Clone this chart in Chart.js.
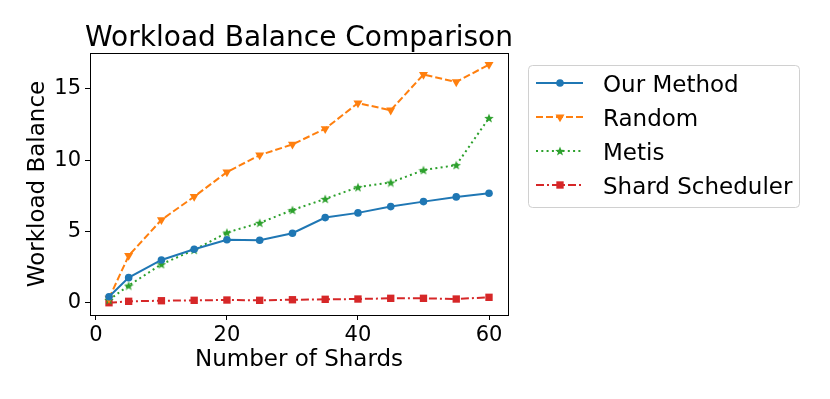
<!DOCTYPE html>
<html>
<head>
<meta charset="utf-8">
<script src="https://cdn.jsdelivr.net/npm/chart.js@4.4.0/dist/chart.umd.min.js"></script>
<style>
  html, body { margin: 0; padding: 0; background: #fff; }
  #wrap { width: 830px; height: 399px; }
</style>
</head>
<body>
<div id="wrap"><canvas id="myChart" width="830" height="399"></canvas></div>
<script>
const shards = [2, 5, 10, 15, 20, 25, 30, 35, 40, 45, 50, 55, 60];
const ourMethod = [0.42, 1.76, 3.0, 3.75, 4.42, 4.38, 4.87, 5.97, 6.30, 6.74, 7.09, 7.42, 7.68];
const randomData = [0.3, 3.3, 5.81, 7.44, 9.16, 10.35, 11.1, 12.2, 14.0, 13.5, 16.0, 15.48, 16.7];
const metis = [0.2, 1.2, 2.7, 3.7, 4.92, 5.6, 6.5, 7.28, 8.1, 8.43, 9.3, 9.65, 12.95];
const shardScheduler = [0.0, 0.1, 0.14, 0.17, 0.19, 0.17, 0.21, 0.24, 0.26, 0.31, 0.31, 0.26, 0.38];

const xTicks = [0, 20, 40, 60];
const yTicks = [0, 5, 10, 15];

const FONT = "'DejaVu Sans', sans-serif";

// filled 5-point star like matplotlib '*'
function makeStar(color, size) {
    const c = document.createElement('canvas');
    c.width = size; c.height = size;
    const g = c.getContext('2d');
    const cx = size / 2, cy = size / 2, R = size / 2, r = R * 0.42;
    g.beginPath();
    for (let i = 0; i < 10; i++) {
        const rad = i % 2 === 0 ? R : r;
        const a = -Math.PI / 2 + i * Math.PI / 5;
        const px = cx + rad * Math.cos(a), py = cy + rad * Math.sin(a) + 0.5;
        if (i === 0) g.moveTo(px, py); else g.lineTo(px, py);
    }
    g.closePath();
    g.fillStyle = color;
    g.fill();
    return c;
}
const starImg = makeStar('#2ca02c', 10);

const toPoints = arr => shards.map((x, i) => ({ x: x, y: arr[i] }));

const datasets = [
    {
        label: 'Our Method',
        data: toPoints(ourMethod),
        borderColor: '#1f77b4',
        backgroundColor: '#1f77b4',
        borderWidth: 2,
        pointStyle: 'circle',
        pointRadius: 3.8,
        pointBorderWidth: 0,
        borderDash: []
    },
    {
        label: 'Random',
        data: toPoints(randomData),
        borderColor: '#ff7f0e',
        backgroundColor: '#ff7f0e',
        borderWidth: 2,
        pointStyle: 'triangle',
        rotation: 180,
        pointRadius: 5.2,
        pointBorderWidth: 0,
        borderDash: [7, 3]
    },
    {
        label: 'Metis',
        data: toPoints(metis),
        borderColor: '#2ca02c',
        backgroundColor: '#2ca02c',
        borderWidth: 2,
        pointStyle: starImg,
        pointRadius: 5,
        pointBorderWidth: 0,
        borderDash: [2, 3.3]
    },
    {
        label: 'Shard Scheduler',
        data: toPoints(shardScheduler),
        borderColor: '#d62728',
        backgroundColor: '#d62728',
        borderWidth: 2,
        pointStyle: 'rect',
        pointRadius: 5.2,
        pointBorderWidth: 0,
        borderDash: [8, 3, 2, 3]
    }
];

const decorations = {
    id: 'decorations',
    afterDraw(chart) {
        const ctx = chart.ctx;
        const a = chart.chartArea;
        ctx.save();
        // full box around axes
        ctx.strokeStyle = '#000';
        ctx.lineWidth = 1;
        ctx.setLineDash([]);
        ctx.strokeRect(Math.round(a.left) + 0.5, Math.round(a.top) + 0.5, Math.round(a.right - a.left), Math.round(a.bottom - a.top));

        ctx.fillStyle = '#000';
        ctx.textAlign = 'center';
        ctx.textBaseline = 'alphabetic';
        ctx.font = '28px ' + FONT;
        ctx.fillText('Workload Balance Comparison', (a.left + a.right) / 2, 46);

        ctx.font = '23px ' + FONT;
        ctx.fillText('Number of Shards', (a.left + a.right) / 2, 366);

        ctx.save();
        ctx.translate(43.5, (a.top + a.bottom) / 2);
        ctx.rotate(-Math.PI / 2);
        ctx.fillText('Workload Balance', 0, 0);
        ctx.restore();

        // legend
        const bx = 528, by = 65, bw = 271, bh = 142;
        ctx.beginPath();
        ctx.roundRect(bx + 0.5, by + 0.5, bw, bh, 4);
        ctx.fillStyle = 'rgba(255,255,255,0.8)';
        ctx.fill();
        ctx.strokeStyle = '#d0d0d0';
        ctx.lineWidth = 1;
        ctx.stroke();

        chart.data.datasets.forEach((ds, i) => {
            const yy = 83 + i * 34;
            ctx.strokeStyle = ds.borderColor;
            ctx.lineWidth = ds.borderWidth;
            ctx.setLineDash(ds.borderDash);
            ctx.beginPath();
            ctx.moveTo(536, yy);
            ctx.lineTo(583, yy);
            ctx.stroke();
            ctx.setLineDash([]);
            ctx.fillStyle = ds.backgroundColor;
            ctx.strokeStyle = ds.borderColor;
            Chart.helpers.drawPoint(ctx, {
                pointStyle: ds.pointStyle,
                radius: ds.pointRadius,
                rotation: ds.rotation || 0,
                borderWidth: 0
            }, 560, yy);
            ctx.fillStyle = '#000';
            ctx.textAlign = 'left';
            ctx.font = '23px ' + FONT;
            ctx.fillText(ds.label, 603, yy + 8.5);
        });
        ctx.restore();
    }
};

const config = {
    type: 'line',
    data: { datasets: datasets },
    options: {
        responsive: false,
        animation: false,
        devicePixelRatio: 1,
        layout: { padding: { left: 30, top: 53, right: 322, bottom: 34 } },
        plugins: {
            legend: { display: false },
            title: { display: false },
            tooltip: { enabled: false }
        },
        elements: { line: { tension: 0, fill: false } },
        scales: {
            x: {
                type: 'linear',
                min: -0.9,
                max: 62.9,
                afterBuildTicks: scale => { scale.ticks = xTicks.map(v => ({ value: v })); },
                afterFit: scale => { scale.height = 50; },
                grid: { drawOnChartArea: false, drawTicks: true, tickLength: 5, color: '#000' },
                border: { display: true, color: '#000' },
                ticks: { color: '#000', font: { family: FONT, size: 21 }, padding: 3, maxRotation: 0 }
            },
            y: {
                type: 'linear',
                min: -0.86,
                max: 17.51,
                afterBuildTicks: scale => { scale.ticks = yTicks.map(v => ({ value: v })); },
                afterFit: scale => { scale.width = 60; },
                grid: { drawOnChartArea: false, drawTicks: true, tickLength: 5, color: '#000' },
                border: { display: true, color: '#000' },
                ticks: { color: '#000', font: { family: FONT, size: 21 }, padding: 4 }
            }
        }
    },
    plugins: [decorations]
};

const myChart = new Chart(document.getElementById('myChart'), config);
</script>
</body>
</html>
